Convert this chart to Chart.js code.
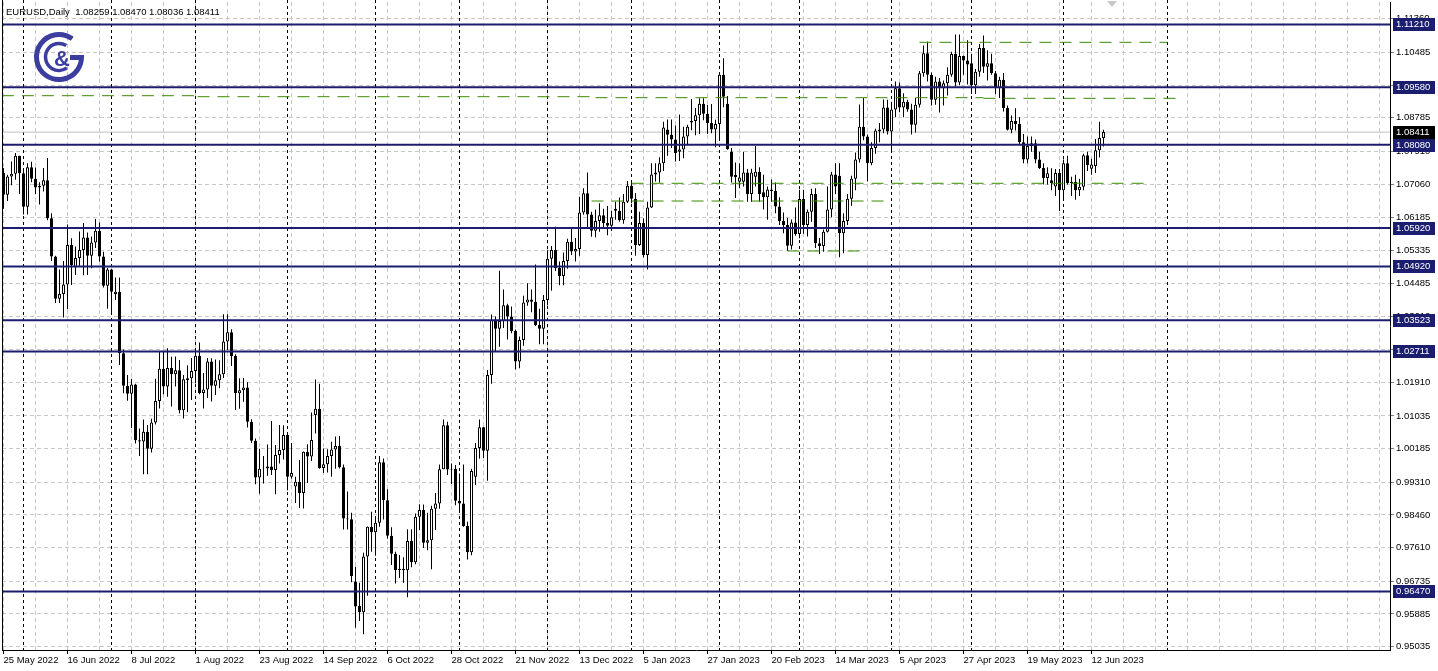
<!DOCTYPE html>
<html>
<head>
<meta charset="utf-8">
<script src="https://cdn.jsdelivr.net/npm/chart.js@4.4.1/dist/chart.umd.min.js"></script>
<style>
  html, body { margin: 0; padding: 0; background: #fff; overflow: hidden; }
  canvas { display: block; }
</style>
</head>
<body>
<canvas id="chart" width="1438" height="671"></canvas>
<script>
const symbolTitle = 'EURUSD,Daily  1.08259 1.08470 1.08036 1.08411'

// one label every 16 daily bars, starting at bar 0
const dateLabels = ['25 May 2022', '16 Jun 2022', '8 Jul 2022', '1 Aug 2022', '23 Aug 2022', '14 Sep 2022',
  '6 Oct 2022', '28 Oct 2022', '21 Nov 2022', '13 Dec 2022', '5 Jan 2023', '27 Jan 2023', '20 Feb 2023',
  '14 Mar 2023', '5 Apr 2023', '27 Apr 2023', '19 May 2023', '12 Jun 2023']

// first bar of each month (bar index)
const monthStarts = [5, 27, 48, 71, 93, 114, 136, 157, 179, 199, 222, 242, 265, 291]

const barOpen = [
  1.0735, 1.0678, 1.0726, 1.0733, 1.0780, 1.0734, 1.0647, 1.0750, 1.0720, 1.0697,
  1.0702, 1.0716, 1.0617, 1.0518, 1.0408, 1.0420, 1.0445, 1.0548, 1.0490, 1.0514,
  1.0535, 1.0567, 1.0520, 1.0554, 1.0585, 1.0518, 1.0442, 1.0484, 1.0420, 1.0426,
  1.0266, 1.0182, 1.0161, 1.0185, 1.0040, 1.0037, 1.0062, 1.0018, 1.0086, 1.0142,
  1.0226, 1.0180, 1.0228, 1.0212, 1.0222, 1.0118, 1.0196, 1.0201, 1.0220, 1.0260,
  1.0163, 1.0172, 1.0245, 1.0182, 1.0196, 1.0212, 1.0297, 1.0321, 1.0259, 1.0162,
  1.0170, 1.0177, 1.0088, 1.0039, 0.9943, 0.9966, 0.9967, 0.9972, 0.9963, 1.0002,
  1.0015, 1.0054, 0.9945, 0.9920, 0.9932, 0.9903, 1.0010, 0.9998, 1.0106, 1.0122,
  0.9968, 0.9978, 0.9999, 1.0016, 1.0025, 0.9970, 0.9837, 0.9835, 0.9673, 0.9610,
  0.9593, 0.9738, 0.9815, 0.9801, 0.9826, 0.9983, 0.9884, 0.9792, 0.9745, 0.9703,
  0.9706, 0.9702, 0.9778, 0.9723, 0.9841, 0.9859, 0.9774, 0.9780, 0.9862, 0.9876,
  0.9965, 1.0079, 0.9964, 0.9966, 0.9883, 0.9876, 0.9817, 0.9749, 0.9945, 1.0020,
  1.0074, 1.0013, 1.0210, 1.0353, 1.0330, 1.0350, 1.0391, 1.0362, 1.0324, 1.0245,
  1.0301, 1.0398, 1.0406, 1.0400, 1.0340, 1.0330, 1.0405, 1.0512, 1.0535, 1.0488,
  1.0467, 1.0506, 1.0556, 1.0531, 1.0537, 1.0632, 1.0682, 1.0627, 1.0585, 1.0610,
  1.0625, 1.0605, 1.0598, 1.0642, 1.0637, 1.0612, 1.0660, 1.0702, 1.0668, 1.0548,
  1.0605, 1.0522, 1.0645, 1.0731, 1.0736, 1.0760, 1.0848, 1.0834, 1.0822, 1.0790,
  1.0796, 1.0830, 1.0866, 1.0870, 1.0885, 1.0915, 1.0889, 1.0865, 1.0848, 1.0862,
  1.0990, 1.0915, 1.0790, 1.0730, 1.0712, 1.0712, 1.0736, 1.0680, 1.0725, 1.0738,
  1.0685, 1.0672, 1.0692, 1.0688, 1.0648, 1.0610, 1.0600, 1.0546, 1.0606, 1.0576,
  1.0667, 1.0600, 1.0634, 1.0680, 1.0552, 1.0545, 1.0582, 1.0640, 1.0731, 1.0728,
  1.0578, 1.0610, 1.0668, 1.0720, 1.0770, 1.0855, 1.0830, 1.0760, 1.0800, 1.0843,
  1.0848, 1.0905, 1.0843, 1.0900, 1.0955, 1.0905, 1.0920, 1.0900, 1.0860, 1.0912,
  1.0994, 1.1046, 1.0990, 1.0925, 1.0973, 1.0955, 1.0968, 1.0990, 1.1044, 1.0970,
  1.1039, 1.1027, 1.1020, 1.0963, 1.0998, 1.1060, 1.1011, 1.1020, 1.0994, 1.0955,
  1.0977, 1.0904, 1.0847, 1.0870, 1.0862, 1.0815, 1.0770, 1.0805, 1.0812, 1.0770,
  1.0748, 1.0722, 1.0716, 1.0700, 1.0735, 1.0690, 1.0760, 1.0708, 1.0712, 1.0690,
  1.0699, 1.0781, 1.0746, 1.0753, 1.0794, 1.08259
]
const barHigh = [
  1.0748, 1.0730, 1.0765, 1.0787, 1.0780, 1.0740, 1.0760, 1.0764, 1.0749, 1.0711,
  1.0748, 1.0774, 1.0630, 1.0520, 1.0484, 1.0506, 1.0601, 1.0565, 1.0544, 1.0583,
  1.0605, 1.0580, 1.0570, 1.0615, 1.0606, 1.0530, 1.0488, 1.0486, 1.0463, 1.0463,
  1.0276, 1.0210, 1.0200, 1.0187, 1.0071, 1.0094, 1.0080, 1.0096, 1.0200, 1.0270,
  1.0273, 1.0279, 1.0257, 1.0258, 1.0249, 1.0210, 1.0235, 1.0254, 1.0274, 1.0294,
  1.0215, 1.0254, 1.0253, 1.0250, 1.0248, 1.0368, 1.0368, 1.0329, 1.0264, 1.0201,
  1.0202, 1.0191, 1.0095, 1.0045, 1.0018, 0.9999, 1.0029, 1.0090, 1.0028, 1.0080,
  1.0079, 1.0056, 1.0033, 0.9945, 0.9989, 1.0011, 1.0030, 1.0112, 1.0198, 1.0187,
  1.0019, 1.0017, 1.0036, 1.0050, 1.0051, 0.9977, 0.9907, 0.9852, 0.9711, 0.9670,
  0.9748, 0.9816, 0.9854, 0.9836, 0.9999, 0.9993, 0.9913, 0.9814, 0.9750, 0.9742,
  0.9736, 0.9809, 0.9809, 0.9850, 0.9874, 0.9873, 0.9852, 0.9870, 0.9903, 0.9977,
  1.0094, 1.0088, 0.9980, 0.9976, 0.9954, 0.9977, 0.9828, 0.9966, 1.0033, 1.0094,
  1.0075, 1.0223, 1.0367, 1.0362, 1.0481, 1.0432, 1.0395, 1.0388, 1.0328, 1.0310,
  1.0416, 1.0448, 1.0432, 1.0497, 1.0382, 1.0418, 1.0534, 1.0545, 1.0595, 1.0505,
  1.0528, 1.0564, 1.0594, 1.0566, 1.0673, 1.0695, 1.0736, 1.0634, 1.0640, 1.0656,
  1.0642, 1.0649, 1.0637, 1.0660, 1.0671, 1.0680, 1.0714, 1.0714, 1.0683, 1.0634,
  1.0617, 1.0660, 1.0760, 1.0760, 1.0776, 1.0868, 1.0874, 1.0874, 1.0858, 1.0887,
  1.0855, 1.0860, 1.0927, 1.0904, 1.0929, 1.0929, 1.0912, 1.0914, 1.0873, 1.0995,
  1.1033, 1.0935, 1.0800, 1.0762, 1.0760, 1.0790, 1.0745, 1.0746, 1.0805, 1.0750,
  1.0730, 1.0700, 1.0718, 1.0710, 1.0672, 1.0632, 1.0618, 1.0614, 1.0645, 1.0691,
  1.0691, 1.0640, 1.0694, 1.0695, 1.0566, 1.0588, 1.0700, 1.0738, 1.0760, 1.0760,
  1.0630, 1.0680, 1.0728, 1.0788, 1.0913, 1.0930, 1.0835, 1.0815, 1.0850, 1.0865,
  1.0926, 1.0925, 1.0920, 1.0973, 1.0970, 1.0942, 1.0925, 1.0915, 1.0930, 1.1000,
  1.1066, 1.1076, 1.0996, 1.0985, 1.0982, 1.0975, 1.1010, 1.1050, 1.1095, 1.1095,
  1.1040, 1.1080, 1.1045, 1.1005, 1.1070, 1.1092, 1.1054, 1.1045, 1.1000, 1.0985,
  1.0995, 1.0910, 1.0884, 1.0903, 1.0880, 1.0836, 1.0830, 1.0830, 1.0822, 1.0790,
  1.0760, 1.0750, 1.0747, 1.0745, 1.0745, 1.0770, 1.0780, 1.0725, 1.0730, 1.0720,
  1.0785, 1.0790, 1.0772, 1.0823, 1.0868, 1.08470
]
const barLow = [
  1.0642, 1.0662, 1.0703, 1.0717, 1.0680, 1.0627, 1.0627, 1.0711, 1.0680, 1.0653,
  1.0687, 1.0612, 1.0506, 1.0397, 1.0397, 1.0359, 1.0381, 1.0444, 1.0470, 1.0494,
  1.0469, 1.0470, 1.0487, 1.0540, 1.0505, 1.0437, 1.0382, 1.0366, 1.0405, 1.0236,
  1.0162, 1.0143, 1.0072, 1.0032, 0.9999, 0.9952, 0.9952, 1.0008, 1.0081, 1.0123,
  1.0160, 1.0153, 1.0128, 1.0180, 1.0110, 1.0097, 1.0113, 1.0145, 1.0188, 1.0160,
  1.0123, 1.0150, 1.0141, 1.0158, 1.0175, 1.0202, 1.0275, 1.0233, 1.0119, 1.0122,
  1.0140, 1.0073, 1.0033, 0.9926, 0.9901, 0.9928, 0.9948, 0.9950, 0.9900, 0.9980,
  0.9990, 0.9910, 0.9940, 0.9877, 0.9864, 0.9863, 0.9929, 0.9986, 1.0058, 0.9966,
  0.9955, 0.9956, 0.9945, 0.9966, 0.9967, 0.9808, 0.9808, 0.9671, 0.9553, 0.9570,
  0.9536, 0.9636, 0.9750, 0.9740, 0.9815, 0.9834, 0.9784, 0.9716, 0.9668, 0.9682,
  0.9670, 0.9632, 0.9710, 0.9718, 0.9807, 0.9760, 0.9754, 0.9705, 0.9807, 0.9862,
  0.9965, 0.9950, 0.9926, 0.9871, 0.9857, 0.9815, 0.9730, 0.9741, 0.9924, 0.9992,
  0.9994, 0.9935, 1.0187, 1.0271, 1.0283, 1.0332, 1.0302, 1.0318, 1.0224, 1.0227,
  1.0286, 1.0390, 1.0373, 1.0337, 1.0290, 1.0290, 1.0391, 1.0429, 1.0480, 1.0443,
  1.0443, 1.0486, 1.0522, 1.0505, 1.0520, 1.0626, 1.0594, 1.0569, 1.0568, 1.0582,
  1.0590, 1.0573, 1.0584, 1.0613, 1.0608, 1.0603, 1.0657, 1.0656, 1.0520, 1.0545,
  1.0515, 1.0484, 1.0644, 1.0713, 1.0710, 1.0740, 1.0780, 1.0800, 1.0765, 1.0766,
  1.0773, 1.0807, 1.0846, 1.0833, 1.0836, 1.0872, 1.0836, 1.0838, 1.0802, 1.0825,
  1.0906, 1.0795, 1.0710, 1.0670, 1.0695, 1.0700, 1.0660, 1.0660, 1.0700, 1.0660,
  1.0640, 1.0613, 1.0660, 1.0630, 1.0600, 1.0578, 1.0533, 1.0536, 1.0572, 1.0565,
  1.0577, 1.0570, 1.0608, 1.0540, 1.0524, 1.0530, 1.0580, 1.0620, 1.0680, 1.0516,
  1.0526, 1.0600, 1.0650, 1.0690, 1.0762, 1.0820, 1.0713, 1.0755, 1.0785, 1.0815,
  1.0838, 1.0835, 1.0788, 1.0880, 1.0893, 1.0880, 1.0894, 1.0835, 1.0840, 1.0905,
  1.0985, 1.0973, 1.0910, 1.0912, 1.0892, 1.0910, 1.0936, 1.0985, 1.0960, 1.0963,
  1.0990, 1.0965, 1.0940, 1.0940, 1.0985, 1.0995, 1.0975, 1.0990, 1.0940, 1.0930,
  1.0895, 1.0845, 1.0838, 1.0845, 1.0810, 1.0760, 1.0760, 1.0790, 1.0760, 1.0745,
  1.0705, 1.0705, 1.0690, 1.0675, 1.0636, 1.0665, 1.0705, 1.0675, 1.0665, 1.0675,
  1.0690, 1.0740, 1.0730, 1.0735, 1.0775, 1.08036
]
const barClose = [
  1.0678, 1.0726, 1.0733, 1.0780, 1.0734, 1.0647, 1.0750, 1.0720, 1.0697, 1.0702,
  1.0716, 1.0617, 1.0518, 1.0408, 1.0420, 1.0445, 1.0548, 1.0495, 1.0514, 1.0535,
  1.0567, 1.0520, 1.0554, 1.0585, 1.0518, 1.0442, 1.0484, 1.0426, 1.0426, 1.0266,
  1.0182, 1.0161, 1.0185, 1.0040, 1.0037, 1.0062, 1.0018, 1.0086, 1.0142, 1.0226,
  1.0180, 1.0228, 1.0212, 1.0222, 1.0118, 1.0199, 1.0201, 1.0220, 1.0260, 1.0163,
  1.0172, 1.0245, 1.0182, 1.0196, 1.0212, 1.0297, 1.0321, 1.0259, 1.0162, 1.0170,
  1.0177, 1.0088, 1.0039, 0.9943, 0.9966, 0.9967, 0.9972, 0.9963, 1.0002, 1.0015,
  1.0054, 0.9945, 0.9955, 0.9932, 0.9903, 1.0010, 0.9998, 1.0041, 1.0122, 0.9968,
  0.9978, 0.9999, 1.0016, 1.0025, 0.9970, 0.9837, 0.9835, 0.9687, 0.9608, 0.9593,
  0.9738, 0.9815, 0.9801, 0.9826, 0.9983, 0.9884, 0.9792, 0.9745, 0.9703, 0.9706,
  0.9702, 0.9778, 0.9723, 0.9841, 0.9859, 0.9774, 0.9780, 0.9862, 0.9876, 0.9965,
  1.0079, 0.9964, 0.9966, 0.9883, 0.9876, 0.9817, 0.9749, 0.9960, 1.0020, 1.0074,
  1.0013, 1.0210, 1.0353, 1.0330, 1.0350, 1.0391, 1.0362, 1.0324, 1.0245, 1.0301,
  1.0398, 1.0406, 1.0400, 1.0340, 1.0330, 1.0405, 1.0512, 1.0535, 1.0488, 1.0467,
  1.0506, 1.0556, 1.0531, 1.0537, 1.0632, 1.0682, 1.0627, 1.0585, 1.0610, 1.0625,
  1.0605, 1.0598, 1.0620, 1.0637, 1.0612, 1.0660, 1.0702, 1.0668, 1.0548, 1.0605,
  1.0522, 1.0645, 1.0731, 1.0736, 1.0760, 1.0853, 1.0834, 1.0822, 1.0787, 1.0796,
  1.0830, 1.0855, 1.0870, 1.0885, 1.0915, 1.0889, 1.0865, 1.0848, 1.0862, 1.0990,
  1.0933, 1.0797, 1.0725, 1.0724, 1.0723, 1.0736, 1.0680, 1.0736, 1.0738, 1.0680,
  1.0672, 1.0692, 1.0688, 1.0648, 1.0610, 1.0600, 1.0546, 1.0606, 1.0576, 1.0667,
  1.0600, 1.0634, 1.0680, 1.0552, 1.0545, 1.0582, 1.0640, 1.0731, 1.0700, 1.0578,
  1.0610, 1.0668, 1.0720, 1.0770, 1.0855, 1.0830, 1.0760, 1.0800, 1.0845, 1.0848,
  1.0905, 1.0843, 1.0900, 1.0955, 1.0905, 1.0920, 1.0900, 1.0860, 1.0912, 1.0994,
  1.1046, 1.0990, 1.0925, 1.0973, 1.0955, 1.0968, 1.0990, 1.1044, 1.0970, 1.1039,
  1.1027, 1.1017, 1.0963, 1.0998, 1.1060, 1.1011, 1.1020, 1.0994, 1.0955, 1.0977,
  1.0904, 1.0847, 1.0870, 1.0862, 1.0815, 1.0770, 1.0805, 1.0812, 1.0770, 1.0748,
  1.0722, 1.0734, 1.0709, 1.0735, 1.0690, 1.0760, 1.0708, 1.0712, 1.0690, 1.0699,
  1.0781, 1.0755, 1.0757, 1.0794, 1.0826, 1.08411
]

const priceTicks = [0.95035, 0.95885, 0.96735, 0.97610, 0.98460, 0.99310, 1.00185, 1.01035, 1.01910, 1.02760,
  1.03610, 1.04485, 1.05335, 1.06185, 1.07060, 1.07910, 1.08785, 1.09635, 1.10485, 1.11360]

const levelPrices = [1.11210, 1.09580, 1.08080, 1.05920, 1.04920, 1.03523, 1.02711, 0.96470]
const lastPrice = 1.08411

// green dashed levels: [from bar, to bar, price]
const greenSegments = [
  [-0.4, 48.5, 1.09358], [48.5, 148, 1.09332], [148, 245, 1.09306], [245, 295, 1.09290],
  [229, 291, 1.10746], [157, 286, 1.07081], [147, 221, 1.06620], [196, 215.6, 1.05321]
]

const NAVY = '#1b1d6e'
const GREEN = '#3a8a00'
const FONT_FAMILY = '"Liberation Sans", Arial, sans-serif'
const FONT_SIZE = 9.5
const X_MIN = -0.375, X_MAX = 346.625
const Y_MIN = 0.949492, Y_MAX = 1.117935

Chart.defaults.font.family = FONT_FAMILY
Chart.defaults.font.size = FONT_SIZE
Chart.defaults.color = '#000'

const bodies = barOpen.map((o, i) => ({ x: i, y: [o, barClose[i]] }))
const bodyFill = barOpen.map((o, i) => (barClose[i] >= o ? '#ffffff' : '#000000'))
const wicks = barLow.map((l, i) => ({ x: i, y: [l, barHigh[i]] }))

const flatLine = (from, to, v) => [{ x: from, y: v }, { x: to, y: v }]

const datasets = [
  { type: 'bar', data: bodies, backgroundColor: bodyFill, borderColor: '#000', borderWidth: 1,
    borderSkipped: false, barThickness: 3, grouped: false, inflateAmount: 0, order: 2 },
  { type: 'bar', data: wicks, backgroundColor: '#000', borderWidth: 0,
    barThickness: 1, grouped: false, inflateAmount: 0, order: 3 },
  { type: 'line', data: flatLine(X_MIN, X_MAX, lastPrice), borderColor: '#c0c0c0', borderWidth: 1,
    pointRadius: 0, order: 4 }
]
greenSegments.forEach(([a, b, v]) => datasets.push({
  type: 'line', data: flatLine(a, b, v), borderColor: GREEN, borderWidth: 1, borderDash: [12, 8],
  pointRadius: 0, order: 1
}))
levelPrices.forEach(v => datasets.push({
  type: 'line', data: flatLine(X_MIN, X_MAX, v), borderColor: NAVY, borderWidth: 2, pointRadius: 0, order: 0
}))

// no auto padding around the axes: the plot must fill the frame exactly
const noPadding = scale => {
  scale.paddingTop = 0
  scale.paddingBottom = 0
  scale.paddingLeft = 0
  scale.paddingRight = 0
}

const overlay = {
  id: 'overlay',
  beforeDatasetsDraw (chart) {
    const { ctx, chartArea: area, scales: { x } } = chart
    ctx.save()
    ctx.strokeStyle = '#000'
    ctx.lineWidth = 1
    ctx.setLineDash([3, 3])
    monthStarts.forEach(i => {
      const px = Math.round(x.getPixelForValue(i) - 0.5) + 0.5
      ctx.beginPath()
      ctx.moveTo(px, 0)
      ctx.lineTo(px, area.bottom)
      ctx.stroke()
    })
    ctx.restore()
  },
  afterDraw (chart) {
    const { ctx, chartArea: area, scales: { x, y } } = chart
    ctx.save()
    // left frame
    ctx.strokeStyle = '#000'
    ctx.lineWidth = 1
    ctx.beginPath()
    ctx.moveTo(area.left + 0.5, 0)
    ctx.lineTo(area.left + 0.5, area.bottom)
    ctx.stroke()

    // logo
    ctx.strokeStyle = '#3b3e9e'
    ctx.lineWidth = 5
    ctx.beginPath()
    ctx.arc(59, 57, 22.5, -Math.PI * 0.3, 0.02, true)
    ctx.lineTo(70, 57.5)
    ctx.stroke()
    ctx.lineWidth = 3.5
    ctx.beginPath()
    ctx.arc(59, 57, 13.5, -Math.PI * 0.32, Math.PI * 0.3, true)
    ctx.stroke()
    ctx.fillStyle = '#3b3e9e'
    ctx.font = 'bold 22px "Liberation Sans", Arial, sans-serif'
    ctx.textAlign = 'center'
    ctx.textBaseline = 'middle'
    ctx.fillText('&', 62, 60)

    // title
    ctx.textAlign = 'left'
    ctx.font = FONT_SIZE + 'px ' + FONT_FAMILY
    ctx.fillStyle = '#000'
    ctx.fillText(symbolTitle, 6, 12)

    // price labels for levels
    const tag = (v, bg) => {
      const py = Math.round(y.getPixelForValue(v))
      ctx.fillStyle = bg
      ctx.fillRect(y.left + 3, py - 6, 42, 13)
      ctx.fillStyle = '#fff'
      ctx.fillText(v.toFixed(5), y.left + 6, py + 0.5)
    }
    levelPrices.forEach(v => tag(v, NAVY))
    tag(lastPrice, '#000')

    // chart shift marker
    const sx = Math.round(x.getPixelForValue(277))
    ctx.fillStyle = '#c8c8c8'
    ctx.beginPath()
    ctx.moveTo(sx - 5, 1)
    ctx.lineTo(sx + 5, 1)
    ctx.lineTo(sx, 7)
    ctx.closePath()
    ctx.fill()
    ctx.restore()
  }
}

new Chart(document.getElementById('chart'), {
  type: 'bar',
  data: { datasets },
  options: {
    responsive: false,
    animation: false,
    devicePixelRatio: 1,
    events: [],
    layout: { padding: { left: 2, top: 2, right: 0, bottom: 0 } },
    plugins: { legend: { display: false }, tooltip: { enabled: false } },
    scales: {
      x: {
        type: 'linear',
        min: X_MIN,
        max: X_MAX,
        offset: false,
        afterBuildTicks: scale => {
          const ticks = []
          for (let v = 0; v <= 344; v += 8) ticks.push({ value: v })
          scale.ticks = ticks
        },
        afterFit: scale => { scale.height = 21; noPadding(scale) },
        ticks: {
          autoSkip: false,
          maxRotation: 0,
          align: 'start',
          padding: 1,
          callback: v => (v % 16 === 0 && dateLabels[v / 16]) ? dateLabels[v / 16] : ''
        },
        grid: {
          offset: false,
          color: '#c8c8c8',
          tickLength: 4,
          tickColor: ctx => (ctx.tick && ctx.tick.value % 16 === 0 && dateLabels[ctx.tick.value / 16]) ? '#000' : 'rgba(0,0,0,0)'
        },
        border: { display: true, color: '#000', width: 1, dash: [4, 3] }
      },
      y: {
        type: 'linear',
        position: 'right',
        min: Y_MIN,
        max: Y_MAX,
        afterBuildTicks: scale => { scale.ticks = priceTicks.map(v => ({ value: v })) },
        afterFit: scale => { scale.width = 48; noPadding(scale) },
        ticks: { autoSkip: false, padding: 2, callback: v => v.toFixed(5) },
        grid: { color: '#c8c8c8', tickLength: 4, tickColor: '#808080' },
        border: { display: true, color: '#000', width: 1, dash: [4, 3] }
      }
    }
  },
  plugins: [overlay]
})
</script>
</body>
</html>
